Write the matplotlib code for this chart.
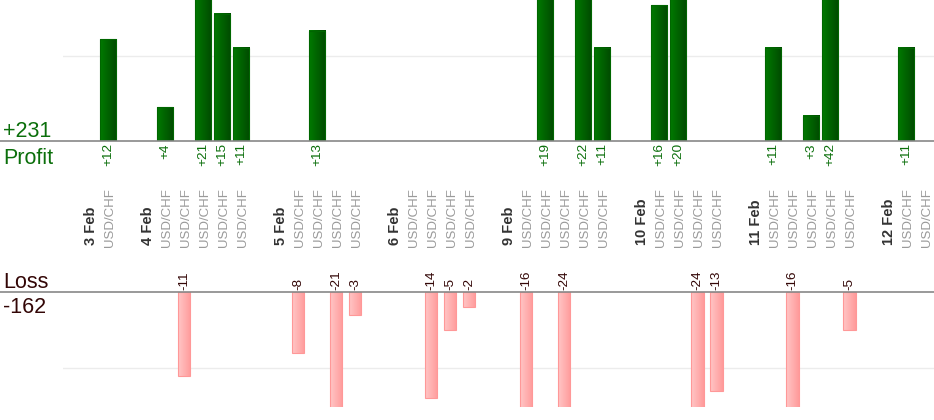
import numpy as np
import matplotlib
matplotlib.use('Agg')
import matplotlib.pyplot as plt
from matplotlib.transforms import blended_transform_factory
from matplotlib.colors import LinearSegmentedColormap
from matplotlib.lines import Line2D

# ---------------- data ----------------
days = ['3 Feb', '4 Feb', '5 Feb', '6 Feb', '9 Feb', '10 Feb', '11 Feb', '12 Feb']
trades_per_day = [1, 5, 4, 4, 5, 4, 5, 2]
pair = 'USD/CHF'
pnl = [12,
       4, -11, 21, 15, 11,
       -8, 13, -21, -3,
       0, -14, -5, -2,
       -16, 19, -24, 22, 11,
       16, 20, -24, -13,
       11, -16, 3, 42, -5,
       11, 0]

plt.rcParams['font.family'] = ['Liberation Sans', 'DejaVu Sans']

W, H = 934, 420
fig = plt.figure(figsize=(W / 100, H / 100), dpi=100)

# slot positions: date label, trades, empty slot
date_pos, trade_pos = [], []
s = 0
for n in trades_per_day:
    date_pos.append(s)
    s += 1
    for k in range(n):
        trade_pos.append(s)
        s += 1
    s += 1


def px_axes(x0, y0, x1, y1):
    return fig.add_axes([x0 / W, 1 - y1 / H, (x1 - x0) / W, (y1 - y0) / H])


ax_p = px_axes(63, 0, 934, 141)
ax_l = px_axes(63, 292, 934, 407)

xlim = (-1.368, 44.47)
profits = [v if v > 0 else 0 for v in pnl]
losses = [v if v < 0 else 0 for v in pnl]

GREEN = '#0b6f0b'
LOSS_TXT = '#330606'


def gradient_bars(ax, bars, c_left, c_right, edge):
    cmap = LinearSegmentedColormap.from_list('g', [c_left, c_right])
    grad = np.linspace(0, 1, 64).reshape(1, -1)
    for b in bars:
        if b.get_height() == 0:
            b.set_visible(False)
            continue
        x, y = b.get_x(), b.get_y()
        w, h = b.get_width(), b.get_height()
        ax.imshow(grad, extent=[x, x + w, min(y, y + h), max(y, y + h)], cmap=cmap,
                  aspect='auto', interpolation='bilinear', zorder=2)
        b.set_facecolor('none')
        b.set_edgecolor(edge)
        b.set_linewidth(0.8)
        b.set_zorder(3)


bp = ax_p.bar(trade_pos, profits, width=0.88)
gradient_bars(ax_p, bp, '#007a00', '#004a00', '#006600')
bl = ax_l.bar(trade_pos, losses, width=0.68)
gradient_bars(ax_l, bl, '#ffc6c6', '#ff9b9b', '#ff9898')

ax_p.set_xlim(*xlim)
ax_p.set_ylim(0, 16.6)
ax_l.set_xlim(*xlim)
ax_l.set_ylim(-15.13, 0)
ax_p.axhline(10, color='#ececec', lw=1, zorder=0)
ax_l.axhline(-10, color='#ececec', lw=1, zorder=0)
for ax in (ax_p, ax_l):
    ax.axis('off')

# baselines across full width
for py in (141, 292):
    fig.add_artist(Line2D([0, 1], [1 - py / H] * 2, transform=fig.transFigure,
                          color='#888888', lw=1.2))

# value labels
for x, v in zip(trade_pos, pnl):
    if v > 0:
        ax_p.annotate(f'+{v}', xy=(x, 0), xytext=(0.5, -1.5), textcoords='offset points',
                      rotation=90, ha='center', va='top', color=GREEN, fontsize=9.7,
                      annotation_clip=False)
    elif v < 0:
        ax_l.annotate(f'{v}', xy=(x, 0), xytext=(0.5, 1.5), textcoords='offset points',
                      rotation=90, ha='center', va='bottom', color=LOSS_TXT, fontsize=9.7,
                      annotation_clip=False)

# category labels
trans = blended_transform_factory(ax_p.transData, fig.transFigure)
for x, d in zip(date_pos, days):
    ax_p.text(x + 0.08, 1 - 245 / H, d, transform=trans, rotation=90, ha='center', va='bottom',
              fontsize=10.5, fontweight='bold', color='#333333', clip_on=False)
for x in trade_pos:
    ax_p.text(x + 0.08, 1 - 247 / H, pair, transform=trans, rotation=90, ha='center', va='bottom',
              fontsize=9.5, color='#9a9a9a', clip_on=False)

# totals
total_p = sum(profits)
total_l = sum(losses)
fig.text(3 / W, 1 - 137 / H, f'+{total_p}', fontsize=15.5, color=GREEN, va='baseline', ha='left')
fig.text(3 / W, 1 - 164 / H, 'Profit', fontsize=15.5, color=GREEN, va='baseline', ha='left')
fig.text(3 / W, 1 - 288 / H, 'Loss', fontsize=15.5, color=LOSS_TXT, va='baseline', ha='left')
fig.text(3 / W, 1 - 313 / H, f'{total_l}', fontsize=15.5, color=LOSS_TXT, va='baseline', ha='left')

fig.savefig('out.png', dpi=100, facecolor='white')
